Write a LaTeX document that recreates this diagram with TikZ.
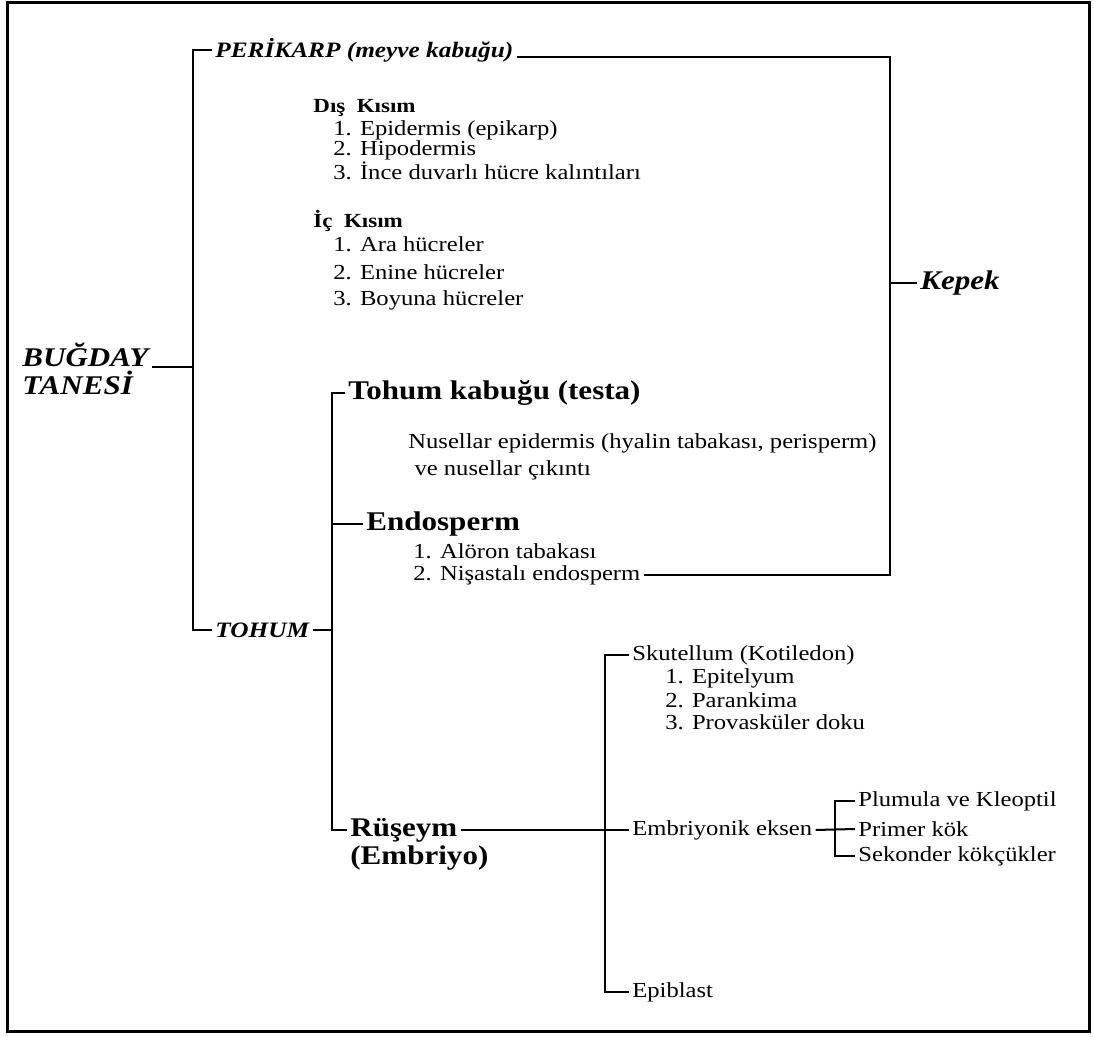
\documentclass[tikz,border=0pt]{standalone}
\usepackage{fontspec}
\setmainfont{Liberation Serif}[FakeStretch=1.15]
\usetikzlibrary{positioning}

\newcommand{\fsz}[1]{\fontsize{#1}{#1}\selectfont}

\begin{document}
\begin{tikzpicture}[
  x=0.5pt, y=-0.5pt,
  lbl/.style={inner xsep=1.5pt, inner ysep=0pt, anchor=west},
  entry/.style={lbl, font=\fsz{10.7}},
  part/.style={lbl, font=\fsz{10}\bfseries},
  organ/.style={lbl, font=\fsz{13.5}\bfseries},
  layer/.style={lbl, font=\fsz{11}\bfseries\itshape},
  grain/.style={lbl, font=\fsz{13.5}\bfseries\itshape},
  link/.style={line width=1pt}
]
\useasboundingbox (0,0) rectangle (1094,1037);
\draw[line width=1.5pt] (7,3) rectangle (1089,1031);

\coordinate (trunkA) at (193,0);
\coordinate (trunkB) at (332,0);
\coordinate (trunkC) at (605,0);
\coordinate (trunkD) at (835,0);
\coordinate (kepekbar) at (890,0);

\node[grain] (bugday) at (19,355) {BUĞDAY};
\node[grain, below=14pt of bugday.west, anchor=west] (tanesi) {TANESİ};

\node[layer] (perikarp) at (212,50) {PERİKARP (meyve kabuğu)};
\node[part] (dis) at (310,108) {Dış\ \ Kısım};
\node[entry, below=11pt of dis.west, anchor=west, xshift=10pt] (epid) {1. Epidermis (epikarp)};
\node[entry, below=10pt of epid.west, anchor=west] (hipo) {2. Hipodermis};
\node[entry, below=10.5pt of hipo.west, anchor=west] (ince) {3. İnce duvarlı hücre kalıntıları};
\node[part] (ic) at (310,221) {İç\ \ Kısım};
\node[entry, below=11.5pt of ic.west, anchor=west, xshift=10pt] (ara) {1. Ara hücreler};
\node[entry, below=14pt of ara.west, anchor=west] (enine) {2. Enine hücreler};
\node[entry, below=14pt of enine.west, anchor=west] (boyuna) {3. Boyuna hücreler};
\node[grain] (kepek) at (917,283) {Kepek};

\node[layer] (tohum) at (212,630) {TOHUM};
\node[organ] (testa) at (345,393) {Tohum kabuğu (testa)};
\node[entry] (nusel) at (405,443) {Nusellar epidermis (hyalin tabakası, perisperm)};
\node[entry, below=13.5pt of nusel.west, anchor=west] (cikinti) {\ ve nusellar çıkıntı};
\node[organ] (endosperm) at (363,524) {Endosperm};
\node[entry] (aleuron) at (410,551) {1. Alöron tabakası};
\node[entry, below=12pt of aleuron.west, anchor=west] (nisasta) {2. Nişastalı endosperm};

\node[organ] (ruseym) at (347,830) {Rüşeym};
\node[organ, below=14pt of ruseym.west, anchor=west] (embriyo) {(Embriyo)};
\node[entry] (skut) at (629,655) {Skutellum (Kotiledon)};
\node[entry, below=11.5pt of skut.west, anchor=west, xshift=16.5pt] (epitel) {1. Epitelyum};
\node[entry, below=11pt of epitel.west, anchor=west] (paren) {2. Parankima};
\node[entry, below=11pt of paren.west, anchor=west] (provas) {3. Provasküler doku};
\node[entry] (eksen) at (629,830) {Embriyonik eksen};
\node[entry] (plumula) at (855,801) {Plumula ve Kleoptil};
\node[entry] (primer) at (855,829) {Primer kök};
\node[entry] (sekonder) at (855,856) {Sekonder kökçükler};
\node[entry] (epiblast) at (629,992) {Epiblast};

\draw[link] (bugday.base east) -- (bugday.base east -| trunkA);
\draw[link] (perikarp.west) -- (perikarp.west -| trunkA) |- (tohum.west);
\draw[link] (perikarp.base east) -| (kepekbar |- nisasta.east) -- (nisasta.east);
\draw[link] (kepek.west) -- (kepek.west -| kepekbar);
\draw[link] (tohum.east) -- (tohum.east -| trunkB);
\draw[link] (testa.west) -- (testa.west -| trunkB) |- (ruseym.west);
\draw[link] (endosperm.west) -- (endosperm.west -| trunkB);
\draw[link] (ruseym.east) -- (eksen.west);
\draw[link] (skut.west) -- (skut.west -| trunkC) |- (epiblast.west);
\draw[link] (eksen.east) -- (primer.west);
\draw[link] (plumula.west) -- (plumula.west -| trunkD) |- (sekonder.west);
\end{tikzpicture}
\end{document}
